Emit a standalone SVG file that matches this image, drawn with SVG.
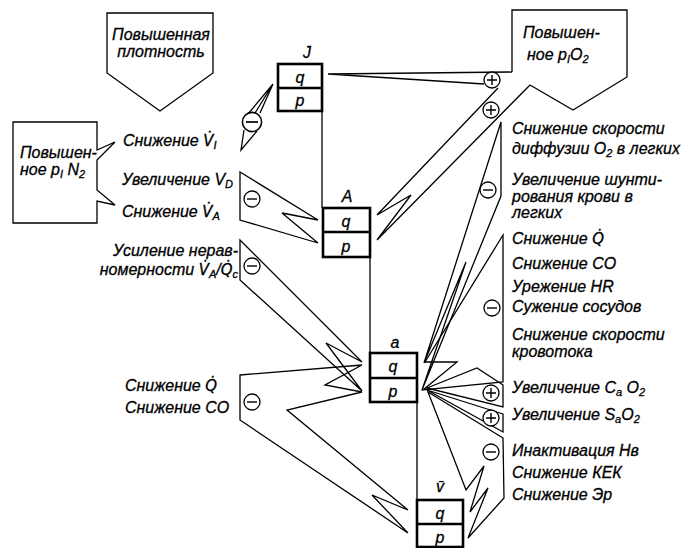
<svg xmlns="http://www.w3.org/2000/svg" width="683" height="548" viewBox="0 0 683 548">
<style>
.t{font-family:"Liberation Sans",Arial,sans-serif;font-style:italic;font-size:16px;fill:#000;stroke:#000;stroke-width:0.3}
.s{font-size:11px}
.d{font-family:"DejaVu Sans",sans-serif;font-size:15px}
.c{text-anchor:middle}
.e{text-anchor:end}
.ln{fill:none;stroke:#000;stroke-width:1.3;stroke-linejoin:miter}
.bx{fill:#fff;stroke:#000;stroke-width:2.6}
.ci{fill:#fff;stroke:#000;stroke-width:1.3}
.sg{stroke:#000;stroke-width:1.4;fill:none}
</style>
<defs>
<g id="minus"><circle class="ci" r="8"/><path class="sg" d="M-5,0H5"/></g>
<g id="plus"><circle class="ci" r="8"/><path class="sg" d="M-5,0H5M0,-5V5"/></g>
</defs>

<g id="connectors">
<path class="ln" d="M322,111V208M370,257V353M417,402V500"/>
<path class="ln" d="M328,74L512,72M328,74L484,84"/>
<path class="ln" d="M530,85L377,240L411,195L377,215L498,88"/>
<path class="ln" d="M273,84L248,114M273,84L260,113M273,84L255,113M244,130L241,150L257,131"/>
<polygon class="ln" points="240,172 318,220 282,213 318,243 240,220"/>
<polygon class="ln" points="240,240 362,362 326,343 362,391 240,280"/>
<polygon class="ln" points="240,375 362,365 325,385 362,392 287,410 408,510 372,495 408,533 240,420"/>
<polygon class="ln" points="501,122 424,363 466,262 422,390 501,196"/>
<polygon class="ln" points="503,235 425,362 457,362 423,390 503,382"/>
<polygon class="ln" points="503,385 477,368 427,388 503,407"/>
<polygon class="ln" points="503,414 427,390 503,432"/>
<polygon class="ln" points="503,438 428,392 466,490 484,466 470,512 488,488 468,538 504,498"/>
<g transform="translate(252,122) scale(1.2)"><use href="#minus"/></g>
<use href="#minus" x="252" y="199"/>
<use href="#minus" x="252" y="266"/>
<use href="#minus" x="252" y="402"/>
<use href="#plus" x="492" y="80"/>
<use href="#plus" x="491" y="110"/>
<use href="#minus" x="488" y="190"/>
<use href="#minus" x="492" y="308"/>
<use href="#plus" x="491" y="393"/>
<use href="#plus" x="491" y="418"/>
<use href="#minus" x="491" y="452"/>
</g>

<g id="node-density">
<polygon class="ln" points="107,13 213,13 213,73 160,111 107,73"/>
<text class="t c" x="161" y="40">Повышенная</text>
<text class="t c" x="161" y="57">плотность</text>
</g>

<g id="node-pN2">
<path class="ln" d="M97,150V122H13V223H97V201L115,205L97,190V160L115,142Z"/>
<text class="t" x="20" y="158">Повышен-</text>
<text class="t" x="20" y="175">ное p<tspan class="s" dy="3">I</tspan><tspan dy="-3"> N</tspan><tspan class="s" dy="3">2</tspan></text>
</g>

<g id="node-pO2">
<path class="ln" d="M512,72V10H627V77L573,110L530,85"/>
<text class="t" x="523" y="38">Повышен-</text>
<text class="t" x="527" y="60">ное p<tspan class="s" dy="3">I</tspan><tspan dy="-3">O</tspan><tspan class="s" dy="3">2</tspan></text>
</g>

<g id="node-J">
<rect class="bx" x="278" y="64" width="44" height="47"/>
<path class="bx" d="M278,88H322"/>
<text class="t c" x="300" y="83">q</text>
<text class="t c" x="300" y="106">p</text>
<text class="t c" x="307" y="58">J</text>
</g>

<g id="node-A">
<rect class="bx" x="323" y="208" width="47" height="49"/>
<path class="bx" d="M323,232H370"/>
<text class="t c" x="346" y="227">q</text>
<text class="t c" x="346" y="252">p</text>
<text class="t c" x="347" y="202">A</text>
</g>

<g id="node-a">
<rect class="bx" x="370" y="353" width="47" height="49"/>
<path class="bx" d="M370,378H417"/>
<text class="t c" x="393" y="372">q</text>
<text class="t c" x="393" y="397">p</text>
<text class="t c" x="395" y="348">a</text>
</g>

<g id="node-v">
<rect class="bx" x="417" y="500" width="46" height="47"/>
<path class="bx" d="M417,524H463"/>
<text class="t c" x="440" y="519">q</text>
<text class="t c" x="440" y="543">p</text>
<text class="t c" x="440" y="492">v&#x304;</text>
</g>

<g id="labels-left">
<text class="t" x="123" y="146">Снижение <tspan class="d">V&#x307;</tspan><tspan class="s" dy="3">I</tspan></text>
<text class="t" x="122" y="185">Увеличение V<tspan class="s" dy="3">D</tspan></text>
<text class="t" x="122" y="217">Снижение <tspan class="d">V&#x307;</tspan><tspan class="s" dy="3">A</tspan></text>
<text class="t e" x="238" y="256">Усиление нерав-</text>
<text class="t e" x="238" y="275">номерности <tspan class="d">V&#x307;</tspan><tspan class="s" dy="3">A</tspan><tspan dy="-3">/</tspan><tspan class="d">Q&#x307;</tspan><tspan class="s" dy="3">c</tspan></text>
<text class="t" x="125" y="391">Снижение <tspan class="d">Q&#x307;</tspan></text>
<text class="t" x="125" y="413">Снижение CO</text>
</g>

<g id="labels-right">
<text class="t" x="512" y="134">Снижение скорости</text>
<text class="t" x="512" y="154">диффузии O<tspan class="s" dy="3">2</tspan><tspan dy="-3"> в легких</tspan></text>
<text class="t" x="512" y="185">Увеличение шунти-</text>
<text class="t" x="512" y="202">рования крови в</text>
<text class="t" x="512" y="218">легких</text>
<text class="t" x="512" y="244">Снижение <tspan class="d">Q&#x307;</tspan></text>
<text class="t" x="512" y="269">Снижение CO</text>
<text class="t" x="512" y="292">Урежение HR</text>
<text class="t" x="512" y="312">Сужение сосудов</text>
<text class="t" x="512" y="340">Снижение скорости</text>
<text class="t" x="512" y="357">кровотока</text>
<text class="t" x="512" y="393">Увеличение C<tspan class="s" dy="3">a</tspan><tspan dy="-3"> O</tspan><tspan class="s" dy="3">2</tspan></text>
<text class="t" x="512" y="420">Увеличение S<tspan class="s" dy="3">a</tspan><tspan dy="-3">O</tspan><tspan class="s" dy="3">2</tspan></text>
<text class="t" x="512" y="456">Инактивация Нв</text>
<text class="t" x="512" y="478">Снижение КЕК</text>
<text class="t" x="512" y="500">Снижение Эр</text>
</g>
</svg>
